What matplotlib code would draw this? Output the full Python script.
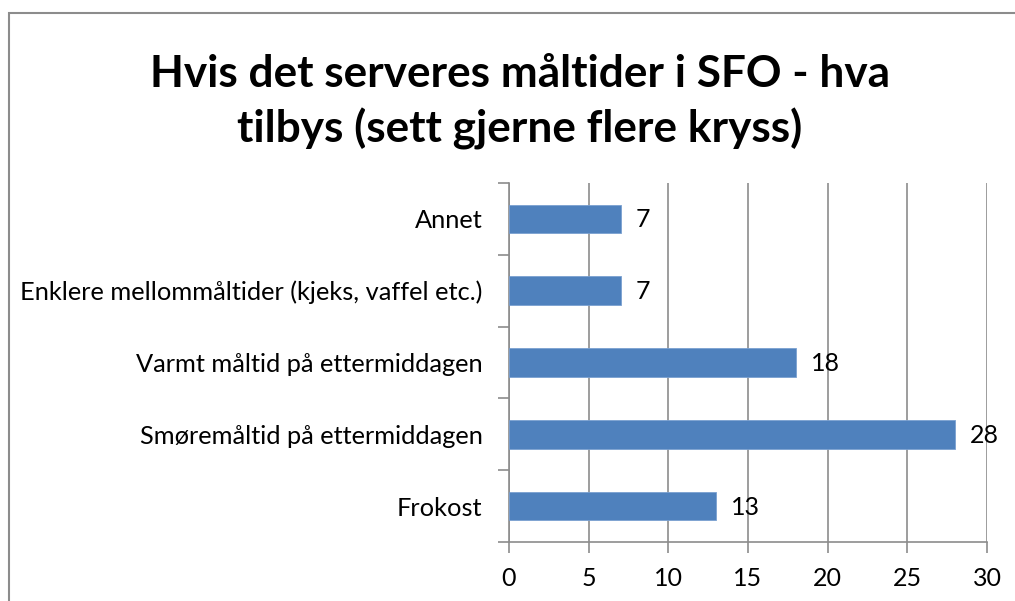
import matplotlib.pyplot as plt
from matplotlib.patches import Rectangle
import numpy as np

plt.rcParams['font.family'] = ['Lato', 'DejaVu Sans']

# data (bottom to top, as drawn)
categories = ["Frokost", "Smøremåltid på ettermiddagen", "Varmt måltid på ettermiddagen",
              "Enklere mellommåltider (kjeks, vaffel etc.)", "Annet"]
values = [13, 28, 18, 7, 7]
xticks = [0, 5, 10, 15, 20, 25, 30]

W, H = 1015, 601
fig = plt.figure(figsize=(W / 100, H / 100), dpi=100)

# chart area border (runs off the right and bottom edge)
fig.patches.append(Rectangle((9 / W, -0.1), 1.2, 1 - 13 / H + 0.1, transform=fig.transFigure,
                             fill=False, edgecolor='#8c8c8c', linewidth=1.5))

fig.text(520 / W, 1 - 102 / H, "Hvis det serveres måltider i SFO - hva\ntilbys (sett gjerne flere kryss)",
         ha='center', va='center', fontsize=31.8, fontweight='bold', linespacing=1.38)

ax = fig.add_axes([509 / W, 1 - 542 / H, (987 - 509) / W, (542 - 183) / H])
y = np.arange(len(categories))
ax.barh(y, values, height=0.4, color='#4f81bd', edgecolor='#7aa0d0', linewidth=0.6, zorder=3)

for yi, v in zip(y, values):
    ax.annotate(str(v), (v, yi), xytext=(15, -1), textcoords='offset pixels',
                ha='left', va='center', fontsize=18, color='black', zorder=4)

ax.set_xlim(0, 30)
ax.set_ylim(-0.5, len(categories) - 0.5)
ax.set_xticks(xticks)
ax.set_xticklabels([str(t) for t in xticks], fontsize=18)
ax.grid(axis='x', color='#8c8c8c', linewidth=1.2, zorder=0)

ax.set_yticks(np.arange(-0.5, len(categories), 1.0))
ax.set_yticklabels([])
ax.set_yticks(y, minor=True)
ax.set_yticklabels(categories, minor=True, fontsize=18.3)
ax.tick_params(axis='y', which='minor', length=0, pad=19)
ax.tick_params(axis='y', which='major', length=8, width=1.2, color='#8c8c8c')
ax.tick_params(axis='x', length=8, width=1.2, color='#8c8c8c', pad=10)

for s in ['top', 'right']:
    ax.spines[s].set_visible(False)
for s in ['left', 'bottom']:
    ax.spines[s].set_color('#8c8c8c')
    ax.spines[s].set_linewidth(1.2)

fig.savefig("out.png", dpi=100)
